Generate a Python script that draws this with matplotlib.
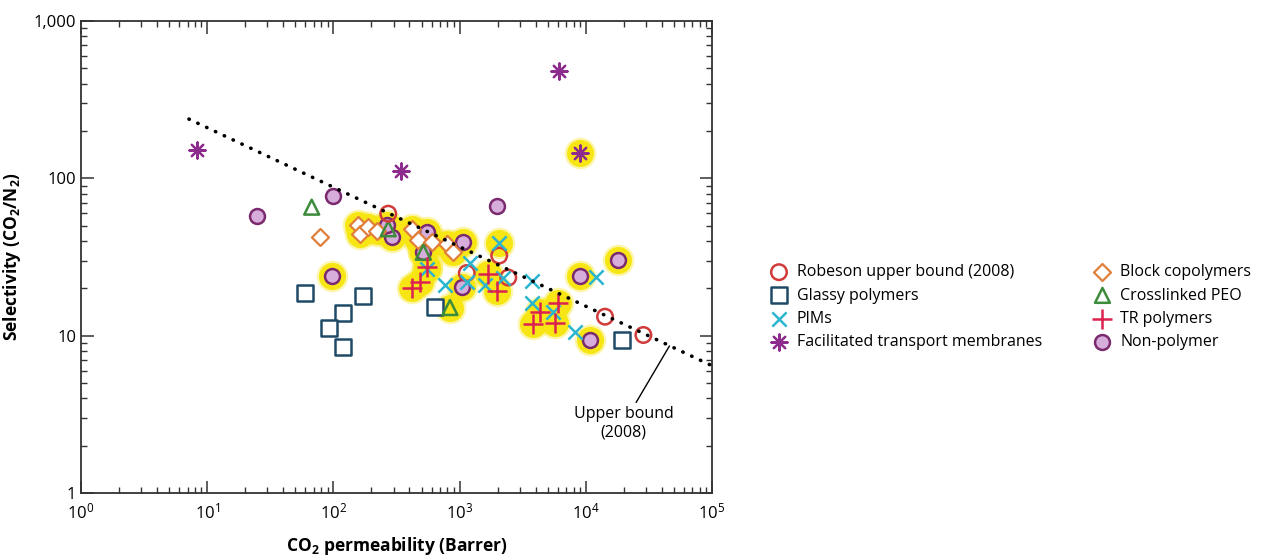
import numpy as np
import matplotlib.pyplot as plt
from matplotlib.ticker import FuncFormatter, NullFormatter, LogLocator

plt.rcParams['font.family'] = ['Open Sans', 'DejaVu Sans']
plt.rcParams['mathtext.fontset'] = 'custom'
plt.rcParams['mathtext.rm'] = 'Open Sans'
plt.rcParams['mathtext.bf'] = 'Open Sans:bold'

# --- data (CO2 permeability in Barrer, CO2/N2 selectivity) ---
rob_x = [272, 1140, 2060, 2430, 14200, 28600]
rob_y = [59.6, 25.0, 32.3, 23.4, 13.2, 10.1]
rob_hl = [0, 0, 0, 0, 0, 0]

glassy_x = [59.6, 172, 119, 92.3, 119, 638, 19200]
glassy_y = [18.8, 18.0, 14.0, 11.2, 8.5, 15.2, 9.4]
glassy_hl = [0, 0, 0, 0, 0, 0, 0]

pims_x = [549, 766, 1209, 1138, 2064, 1589, 2220, 3726, 3726, 5525, 8210, 12050]
pims_y = [26.7, 21.0, 29.0, 21.9, 38.7, 21.0, 23.3, 22.1, 16.1, 14.1, 10.5, 23.6]
pims_hl = [1, 0, 0, 0, 1, 0, 0, 0, 0, 0, 0, 0]

ft_x = [8.3, 343, 6135, 8995]
ft_y = [151, 112, 480, 144]
ft_hl = [0, 0, 0, 1]

block_x = [78.3, 157.5, 162.5, 189, 220, 417, 471, 601, 790, 891]
block_y = [42.4, 50.2, 44.4, 48.9, 46.6, 47.8, 40.7, 39.3, 38.4, 33.9]
block_hl = [0, 1, 1, 1, 1, 1, 1, 1, 1, 1]

peo_x = [67.3, 272, 516, 839]
peo_y = [65.6, 47.8, 33.9, 15.1]
peo_hl = [0, 1, 1, 1]

tr_x = [549, 486, 417, 1688, 1968, 4335, 3837, 6053, 5702]
tr_y = [27.5, 21.9, 20.1, 24.8, 19.3, 14.1, 11.9, 16.2, 12.0]
tr_hl = [1, 1, 1, 1, 1, 1, 1, 1, 1]

np_x = [24.7, 99.8, 97, 290, 264, 549, 1070, 516, 1039, 1968, 8995, 18100, 10800]
np_y = [57.5, 77.6, 23.8, 42.3, 50.2, 45.5, 39.3, 33.9, 20.3, 66.3, 23.8, 30.4, 9.4]
np_hl = [0, 0, 1, 1, 1, 1, 1, 1, 1, 0, 1, 1, 1]

# upper bound line end points
ub_x = [7.17, 1e5]
ub_y = [238, 6.44]

y_ticks = [1, 10, 100, 1000]

fig = plt.figure(figsize=(12.79, 5.57), dpi=100)
ax = fig.add_axes([81/1279, 1 - 493/557, (712-81)/1279, (493-21)/557])

# yellow highlights behind selected points
yellow = '#F7E614'
for xs, ys, hl in [(rob_x, rob_y, rob_hl), (glassy_x, glassy_y, glassy_hl),
                   (pims_x, pims_y, pims_hl), (ft_x, ft_y, ft_hl),
                   (block_x, block_y, block_hl), (peo_x, peo_y, peo_hl),
                   (tr_x, tr_y, tr_hl), (np_x, np_y, np_hl)]:
    m = np.array(hl, dtype=bool)
    xs = np.array(xs)[m]
    ys = np.array(ys)[m]
    ax.scatter(xs, ys, s=520, color=yellow, alpha=0.35, lw=0, zorder=1)
    ax.scatter(xs, ys, s=380, color=yellow, lw=0, zorder=1.1)

h_np = ax.scatter(np_x, np_y, s=115, facecolor='#D7AEDB', edgecolor='#7B2A6E', lw=1.8, zorder=3,
                  label='Non-polymer')
h_block = ax.scatter(block_x, block_y, s=75, marker='D', facecolor='white', edgecolor='#E07F3A', lw=1.6,
                     zorder=3, label='Block copolymers')
h_peo = ax.scatter(peo_x, peo_y, s=115, marker='^', facecolor='none', edgecolor='#3C8C3C', lw=1.8,
                   zorder=4, label='Crosslinked PEO')
h_glassy = ax.scatter(glassy_x, glassy_y, s=125, marker='s', facecolor='white', edgecolor='#1F4A66', lw=1.8,
                      zorder=3, label='Glassy polymers')
h_rob = ax.scatter(rob_x, rob_y, s=125, facecolor='none', edgecolor='#D23B3B', lw=1.8, zorder=4,
                   label='Robeson upper bound (2008)')
h_pims = ax.scatter(pims_x, pims_y, s=105, marker='x', color='#2BB5CF', lw=1.8, zorder=5, label='PIMs')
h_tr = ax.scatter(tr_x, tr_y, s=200, marker='+', color='#DC2350', lw=1.8, zorder=6, label='TR polymers')
h_ft = ax.scatter(ft_x, ft_y, s=135, marker=(8, 2, 0), color='#8E2C8E', lw=1.6, zorder=6,
                  label='Facilitated transport membranes')

ax.plot(ub_x, ub_y, color='black', lw=2.6, linestyle=(0, (0.1, 2.6)), dash_capstyle='round', zorder=7)

ax.annotate('Upper bound\n(2008)', xy=(46000, 8.6), xytext=(20000, 3.55), ha='center', va='top',
            fontsize=11.5, arrowprops=dict(arrowstyle='-', lw=1, color='black', shrinkA=1, shrinkB=0,
                                           relpos=(0.6, 1.0)))

ax.set_xscale('log')
ax.set_yscale('log')
ax.set_xlim(1, 1e5)
ax.set_ylim(1, 1000)
ax.set_yticks(y_ticks)
ax.yaxis.set_major_formatter(FuncFormatter(lambda v, p: f'{v:,.0f}'))
ax.xaxis.set_minor_locator(LogLocator(base=10, subs=np.arange(2, 10)))
ax.yaxis.set_minor_locator(LogLocator(base=10, subs=np.arange(2, 10)))
ax.xaxis.set_minor_formatter(NullFormatter())
ax.yaxis.set_minor_formatter(NullFormatter())
ax.tick_params(which='both', direction='in', top=True, right=True, labelsize=12, color='#333333')
ax.tick_params(which='major', length=9, width=1.1)
ax.tick_params(which='minor', length=4.5, width=1.0)
ax.tick_params(axis='x', which='major', pad=7)
for s in ax.spines.values():
    s.set_linewidth(1.3)
    s.set_color('#333333')

ax.set_xlabel(r'CO$_\mathbf{2}$ permeability (Barrer)', fontsize=12.5, fontweight='bold', labelpad=9)
ax.set_ylabel(r'Selectivity (CO$_\mathbf{2}$/N$_\mathbf{2}$)', fontsize=12.5, fontweight='bold', labelpad=8)

handles = [h_rob, h_glassy, h_pims, h_ft, h_block, h_peo, h_tr, h_np]
fig.legend(handles=handles, labels=[h.get_label() for h in handles], ncol=2, frameon=False,
           loc='upper left', bbox_to_anchor=(755/1279, 1 - 250/557), fontsize=11.5,
           handletextpad=0.5, columnspacing=3.2, labelspacing=0.45, handlelength=1.2, scatterpoints=1)

fig.savefig('out.png', dpi=100)
